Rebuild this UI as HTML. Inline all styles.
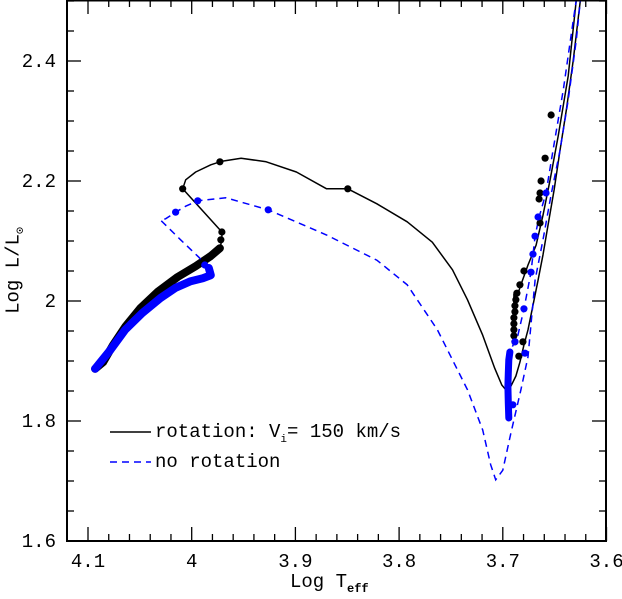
<!DOCTYPE html>
<html><head><meta charset="utf-8"><style>
body{margin:0;background:#fff}
svg{display:block;font-family:"Liberation Mono",monospace}
</style></head><body>
<svg id="c" width="622" height="599"></svg>
<script>
const blackTrackT=[4.0932,4.0854,4.0757,4.0641,4.0495,4.0330,4.0136,3.9961,3.9816,3.9728,3.9709,3.9709,4.0087,4.0058,3.9961,3.9816,3.9709,3.9524,3.9282,3.8990,3.8699,3.8495,3.8214,3.7922,3.7680,3.7485,3.7340,3.7194,3.7078,3.7010,3.6971,3.6922,3.6874,3.6835,3.6796,3.6757,3.6709,3.6660,3.6612,3.6563,3.6505,3.6447,3.6388,3.6320,3.6252];
const blackTrackL=[1.887,1.898,1.927,1.957,1.988,2.015,2.040,2.058,2.075,2.088,2.102,2.115,2.187,2.202,2.215,2.227,2.233,2.238,2.232,2.215,2.187,2.187,2.162,2.132,2.098,2.052,2.002,1.943,1.888,1.860,1.852,1.858,1.875,1.898,1.927,1.952,1.993,2.035,2.077,2.127,2.185,2.252,2.318,2.402,2.502];
const blackMsCount=10;
const black2T=[3.6883,3.6893,3.6893,3.6874,3.6825,3.6757,3.6679,3.6612,3.6544,3.6466,3.6369,3.6291];
const black2L=[1.932,1.972,2.012,2.002,2.027,2.060,2.093,2.143,2.202,2.275,2.375,2.502];
const blackDotT=[3.9709,3.9719,4.0087,3.9728,3.8495,3.6534,3.6592,3.6631,3.6641,3.6650,3.6641,3.6796,3.6835,3.6864,3.6874,3.6883,3.6883,3.6893,3.6893,3.6893,3.6893,3.6883,3.6806,3.6845];
const blackDotL=[2.115,2.102,2.187,2.232,2.187,2.310,2.238,2.200,2.180,2.170,2.130,2.050,2.027,2.013,2.002,1.992,1.982,1.972,1.962,1.952,1.942,1.932,1.932,1.908];
const blueMsT=[4.0932,4.0786,4.0641,4.0476,4.0301,4.0155,4.0010,3.9893,3.9816,3.9835];
const blueMsL=[1.887,1.918,1.952,1.980,2.005,2.022,2.033,2.038,2.043,2.055];
const blueTrackT=[3.9835,3.9932,4.0107,4.0272,4.0301,4.0252,4.0155,4.0058,3.9942,3.9670,3.9262,3.8699,3.8214,3.7922,3.7631,3.7340,3.7194,3.7117,3.7068,3.7000,3.6922,3.6825,3.6757,3.6689,3.6612,3.6534,3.6447,3.6369,3.6291,3.6252];
const blueTrackL=[2.055,2.073,2.102,2.130,2.135,2.137,2.148,2.158,2.167,2.172,2.152,2.110,2.068,2.027,1.952,1.852,1.785,1.727,1.702,1.718,1.780,1.852,1.907,2.035,2.102,2.177,2.252,2.335,2.435,2.502];
const blue2T=[3.6942,3.6951,3.6942,3.6913,3.6854,3.6796,3.6728,3.6689,3.6650,3.6583,3.6515,3.6417,3.6320,3.6291];
const blue2L=[1.805,1.868,1.902,1.922,1.943,1.987,2.048,2.108,2.140,2.180,2.252,2.352,2.468,2.502];
const blueStackT=[3.6942,3.6947,3.6951,3.6947,3.6942,3.6932];
const blueStackL=[1.805,1.830,1.858,1.880,1.902,1.915];
const blueDotT=[3.9874,4.0155,3.9942,3.9262,3.6883,3.6786,3.6796,3.6728,3.6709,3.6689,3.6660,3.6583,3.6903];
const blueDotL=[2.060,2.148,2.167,2.152,1.932,1.913,1.987,2.048,2.078,2.108,2.140,2.180,1.827];
const xTicks=[4.1,4.0,3.9,3.8,3.7,3.6];
const xTickLabels=["4.1","4","3.9","3.8","3.7","3.6"];
const yTicks=[1.6,1.8,2.0,2.2,2.4];
const yTickLabels=["1.6","1.8","2","2.2","2.4"];

const L0=67,R0=606,T0=0,B0=541;
const X=t=>88+(4.1-t)*1037;
const Y=l=>541-(l-1.6)*600;
const svg=document.getElementById('c');
const NS='http://www.w3.org/2000/svg';
function mk(tag,a,parent){const e=document.createElementNS(NS,tag);for(const k in a)e.setAttribute(k,a[k]);(parent||svg).appendChild(e);return e;}
function pts(T,L){return T.map((t,i)=>X(t).toFixed(1)+','+Y(L[i]).toFixed(1)).join(' ');}

const defs=mk('defs',{});const cp=mk('clipPath',{id:'pc'},defs);mk('rect',{x:L0,y:T0,width:R0-L0,height:B0-T0},cp);
const g=mk('g',{'clip-path':'url(#pc)'});

for(let v=3.6;v<=4.121;v+=0.02){const x=X(v);const major=Math.abs(v*10-Math.round(v*10))<1e-6;const len=major?14:7;
 const t1=mk('line',{x1:x,y1:B0,x2:x,y2:B0-len,stroke:'#000','stroke-width':1.3});
 
 mk('line',{x1:x,y1:T0,x2:x,y2:T0+len,stroke:'#000','stroke-width':1.3});}
for(let v=1.6;v<=2.5;v+=0.05){const y=Y(v);const major=Math.abs(v*5-Math.round(v*5))<1e-6;const len=major?14:7;
 const t2=mk('line',{x1:L0,y1:y,x2:L0+len,y2:y,stroke:'#000','stroke-width':1.3});
 
 mk('line',{x1:R0,y1:y,x2:R0-len,y2:y,stroke:'#000','stroke-width':1.3});}
xTicks.forEach((v,i)=>{const t=mk('text',{x:X(v),y:567,'font-size':19,'text-anchor':'middle'});t.textContent=xTickLabels[i];
 });
yTicks.forEach((v,i)=>{const t=mk('text',{x:56,y:Y(v)+6,'font-size':19,'text-anchor':'end'});t.textContent=yTickLabels[i];
 });

const bms=mk('polyline',{points:pts(blackTrackT.slice(0,blackMsCount),blackTrackL.slice(0,blackMsCount)),fill:'none',stroke:'#000','stroke-width':8,'stroke-linecap':'round','stroke-linejoin':'round'},g);

const bl=mk('polyline',{points:pts(blackTrackT,blackTrackL),fill:'none',stroke:'#000','stroke-width':1.5,'stroke-linejoin':'round'},g);

const bl2=mk('polyline',{points:pts(black2T,black2L),fill:'none',stroke:'#000','stroke-width':1.5},g);


const ums=mk('polyline',{points:pts(blueMsT,blueMsL),fill:'none',stroke:'#0000ff','stroke-width':8,'stroke-linecap':'round','stroke-linejoin':'round'},g);

const ul=mk('polyline',{points:pts(blueTrackT,blueTrackL),fill:'none',stroke:'#0000ff','stroke-width':1.5,'stroke-dasharray':'7,5'},g);

const ul2=mk('polyline',{points:pts(blue2T,blue2L),fill:'none',stroke:'#0000ff','stroke-width':1.5,'stroke-dasharray':'7,5'},g);

const us=mk('polyline',{points:pts(blueStackT,blueStackL),fill:'none',stroke:'#0000ff','stroke-width':7,'stroke-linecap':'round'},g);


blackDotT.forEach((t,i)=>{const c=mk('circle',{cx:X(t),cy:Y(blackDotL[i]),r:3.6,fill:'#000'},g);
 });
blueDotT.forEach((t,i)=>{const c=mk('circle',{cx:X(t),cy:Y(blueDotL[i]),r:3.6,fill:'#0000ff'},g);
 });

const lg1=mk('line',{x1:110,y1:432,x2:151,y2:432,stroke:'#000','stroke-width':1.5});

const lg2=mk('line',{x1:110,y1:462,x2:151,y2:462,stroke:'#0000ff','stroke-width':1.5,'stroke-dasharray':'7,5'});


const fr=mk('rect',{x:L0,y:T0+0.5,width:R0-L0,height:B0-T0-0.5,fill:'none',stroke:'#000','stroke-width':2});

</script>
<div style="position:absolute;left:0;top:0;width:622px;height:599px;pointer-events:none;font-family:'Liberation Mono',monospace">
 <div>
  <div style="position:absolute;left:155px;top:421px;font-size:19px;white-space:nowrap">rotation: V<sub style="font-size:11px">i</sub>= 150 km/s</div>
  <div style="position:absolute;left:155px;top:451px;font-size:19px;white-space:nowrap">no rotation</div>
 </div>
 <div style="position:absolute;left:290px;top:571px;font-size:19px;white-space:nowrap">Log T<sub style="font-size:12px;font-weight:bold">eff</sub></div>
 <div style="position:absolute;left:-45px;top:258px;width:120px;text-align:center;font-size:19px;white-space:nowrap;transform:rotate(-90deg)">Log L/L<sub style="font-size:12px">⊙</sub></div>
</div>
</body></html>
